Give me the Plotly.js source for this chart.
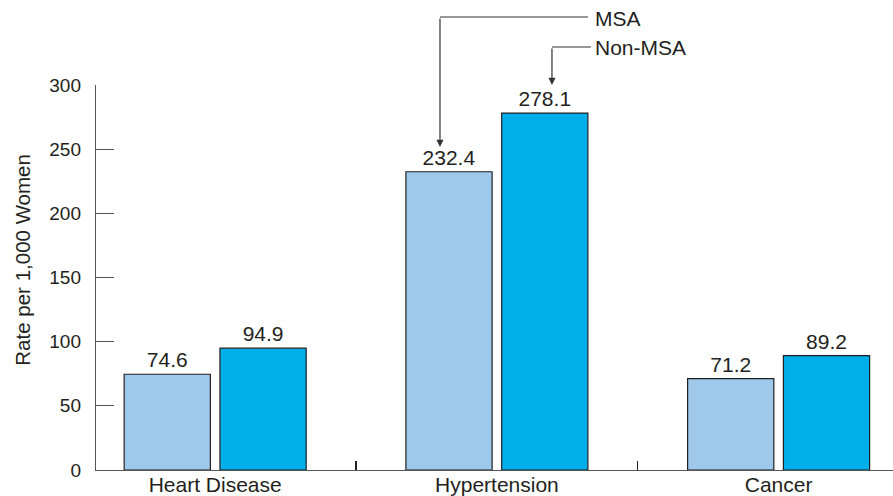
<!DOCTYPE html>
<html>
<head>
<meta charset="utf-8">
<script src="https://cdn.plot.ly/plotly-3.0.1.min.js"></script>
<style>html,body{margin:0;padding:0;background:#fff;}#chart{width:893px;height:496px;}</style>
</head>
<body>
<div id="chart"></div>
<script>
const categories = ["Heart Disease", "Hypertension", "Cancer"];
const msaValues = [74.6, 232.4, 71.2];
const nonMsaValues = [94.9, 278.1, 89.2];
const seriesNames = ["MSA", "Non-MSA"];
const yTicks = [0, 50, 100, 150, 200, 250, 300];
const yTitle = "Rate per 1,000 Women";

const FONT = "Liberation Sans, Arial, sans-serif";
const TXT = "#231f20";

const traceMSA = {
  type: "bar", name: seriesNames[0], x: categories, y: msaValues,
  marker: {color: "#9fc9eb", line: {color: "#231f20", width: 1.2}},
  text: msaValues.map(v => v.toFixed(1)), textposition: "outside",
  textfont: {family: FONT, size: 21, color: TXT}, cliponaxis: false,
  hoverinfo: "none"
};
const traceNon = {
  type: "bar", name: seriesNames[1], x: categories, y: nonMsaValues,
  marker: {color: "#00aeea", line: {color: "#231f20", width: 1.2}},
  text: nonMsaValues.map(v => v.toFixed(1)), textposition: "outside",
  textfont: {family: FONT, size: 21, color: TXT}, cliponaxis: false,
  hoverinfo: "none"
};

const layout = {
  width: 893, height: 496,
  margin: {l: 96, r: 0, t: 85, b: 26},
  paper_bgcolor: "#fff", plot_bgcolor: "#fff",
  showlegend: false,
  barmode: "group", bargap: 0.32, bargroupgap: 0.1,
  font: {family: FONT, color: TXT},
  xaxis: {
    type: "category", range: [-0.423, 2.406],
    showline: true, linecolor: "#555", linewidth: 1.2,
    ticks: "inside", tickson: "boundaries", ticklen: 9, tickcolor: "#231f20", tickwidth: 1.2,
    showgrid: false, zeroline: false,
    ticklabelstandoff: -4,
    tickfont: {family: FONT, size: 21, color: TXT}
  },
  yaxis: {
    range: [0, 300], tickvals: yTicks, ticktext: yTicks.map(String),
    showline: true, linecolor: "#555", linewidth: 1.2,
    ticks: "inside", ticklen: 18, tickcolor: "#555", tickwidth: 1.2,
    showgrid: false, zeroline: false,
    ticklabelstandoff: 10,
    tickfont: {family: FONT, size: 19, color: TXT}
  },
  shapes: [
    {type: "line", xref: "paper", yref: "paper", x0: 0.4316, x1: 0.6173, y0: 1.1766, y1: 1.1766, line: {color: "#333", width: 1.2}},
    {type: "line", xref: "paper", yref: "paper", x0: 0.5721, x1: 0.621, y0: 1.0987, y1: 1.0987, line: {color: "#333", width: 1.2}}
  ],
  annotations: [
    {xref: "paper", yref: "paper", x: 0.4316, y: 0.839, ax: 0, ay: -130, showarrow: true, arrowhead: 2, arrowsize: 1.2, arrowwidth: 1.2, arrowcolor: "#333", text: ""},
    {xref: "paper", yref: "paper", x: 0.5721, y: 1.0, ax: 0, ay: -38, showarrow: true, arrowhead: 2, arrowsize: 1.2, arrowwidth: 1.2, arrowcolor: "#333", text: ""},
    {xref: "paper", yref: "paper", x: 0.623, y: 1.174, xanchor: "left", yanchor: "middle", showarrow: false, text: seriesNames[0], font: {family: FONT, size: 21, color: TXT}},
    {xref: "paper", yref: "paper", x: 0.623, y: 1.0987, xanchor: "left", yanchor: "middle", showarrow: false, text: seriesNames[1], font: {family: FONT, size: 21, color: TXT}},
    {xref: "paper", yref: "paper", x: -0.0922, y: 0.545, xanchor: "center", yanchor: "middle", textangle: -90, showarrow: false, text: yTitle, font: {family: FONT, size: 20.5, color: TXT}}
  ]
};

Plotly.newPlot("chart", [traceMSA, traceNon], layout, {staticPlot: true, displayModeBar: false});
</script>
</body>
</html>
